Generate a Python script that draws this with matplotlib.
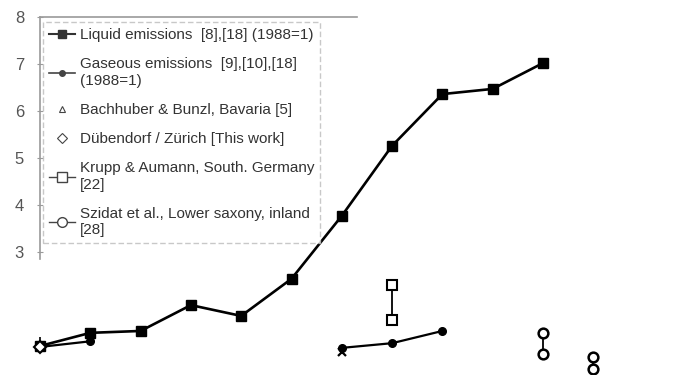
import numpy as np
import matplotlib
matplotlib.use("Agg")
import matplotlib.pyplot as plt
from matplotlib.lines import Line2D

plt.rcParams['font.family'] = ['Liberation Sans', 'DejaVu Sans']

# Relative emissions (1988 = 1)
years = np.arange(1988, 1999)
liquid = [1.0, 1.28, 1.32, 1.87, 1.64, 2.43, 3.77, 5.26, 6.36, 6.47, 7.02]
gaseous = [0.98, 1.10, np.nan, np.nan, np.nan, np.nan, 0.96, 1.06, 1.32, np.nan, np.nan]

# Field studies
bachhuber_year = [1994]
bachhuber_val = [0.88]
duebendorf_year = [1988]
duebendorf_val = [0.98]
krupp_year = [1995, 1995]
krupp_val = [2.30, 1.55]
szidat_years = [1998, 1998, 1999, 1999]
szidat_vals = [1.28, 0.83, 0.77, 0.51]

labels = [
    "Liquid emissions  [8],[18] (1988=1)",
    "Gaseous emissions  [9],[10],[18]\n(1988=1)",
    "Bachhuber & Bunzl, Bavaria [5]",
    "Dübendorf / Zürich [This work]",
    "Krupp & Aumann, South. Germany\n[22]",
    "Szidat et al., Lower saxony, inland\n[28]",
]

fig = plt.figure(figsize=(6.75, 3.75), dpi=100)
ax = fig.add_axes([40 / 675, 0.0, 1 - 40 / 675, 358 / 375])
ax.set_xlim(1988, 1988 + 635 / 50.3)
ax.set_ylim(8 - 358 / 47, 8)

ax.plot(years, liquid, color='black', lw=1.9, marker='s', ms=7, zorder=3,
        clip_on=False)
ax.plot(years, gaseous, color='black', lw=1.6, marker='o', ms=5.5, zorder=3,
        clip_on=False)
ax.plot(bachhuber_year, bachhuber_val, ls='none', marker='x', ms=6,
        mec='black', mew=1.6, zorder=4)
dueb = ax.errorbar(duebendorf_year, duebendorf_val, yerr=[[0], [0.22]], fmt='D',
                   ms=6, mfc='white', mec='black', mew=1.5, ecolor='black',
                   elinewidth=1.2, zorder=5)
for artist in dueb.lines[0:1] + tuple(dueb.lines[2]):
    artist.set_clip_on(False)
ax.plot(krupp_year, krupp_val, color='black', lw=1.3, marker='s', ms=7,
        mfc='white', mec='black', mew=1.5, zorder=3)
for i in range(0, len(szidat_years), 2):
    ax.plot(szidat_years[i:i + 2], szidat_vals[i:i + 2], color='black', lw=1.3,
            marker='o', ms=7, mfc='white', mec='black', mew=1.8, zorder=3)

# Axes frame: only the upper-left part
for side in ('right', 'bottom'):
    ax.spines[side].set_visible(False)
ax.spines['left'].set_bounds(2.85, 8)
ax.spines['top'].set_bounds(1988, 1994.3)
for side in ('left', 'top'):
    ax.spines[side].set_color('#9a9a9a')
    ax.spines[side].set_linewidth(1.2)
ax.set_xticks([])
ax.set_yticks([3, 4, 5, 6, 7, 8])
ax.tick_params(axis='y', direction='inout', length=5, color='#9a9a9a',
               labelsize=12, labelcolor='#555555', pad=9)

handles = [
    Line2D([], [], color='#333333', lw=1.5, marker='s', ms=6),
    Line2D([], [], color='#444444', lw=1.2, marker='o', ms=4),
    Line2D([], [], ls='none', marker='^', ms=5, mfc='white', mec='#444444', mew=0.8),
    Line2D([], [], ls='none', marker='D', ms=5, mfc='white', mec='#444444', mew=0.8),
    Line2D([], [], color='#444444', lw=1.0, marker='s', ms=7, mfc='white', mec='#444444'),
    Line2D([], [], color='#444444', lw=1.0, marker='o', ms=7, mfc='white', mec='#444444'),
]
leg = ax.legend(handles, labels, loc='upper left', bbox_to_anchor=(3 / 635, 1 - 5 / 358),
                fontsize=11, frameon=True, fancybox=False, edgecolor='#bbbbbb',
                handlelength=1.7, handletextpad=0.3, labelspacing=1.0,
                borderpad=0.4, borderaxespad=0.0)
leg.get_frame().set_linewidth(1.0)
leg.get_frame().set_linestyle((0, (4, 2)))
for t in leg.get_texts():
    t.set_color('#333333')

fig.savefig("out.png", dpi=100)
